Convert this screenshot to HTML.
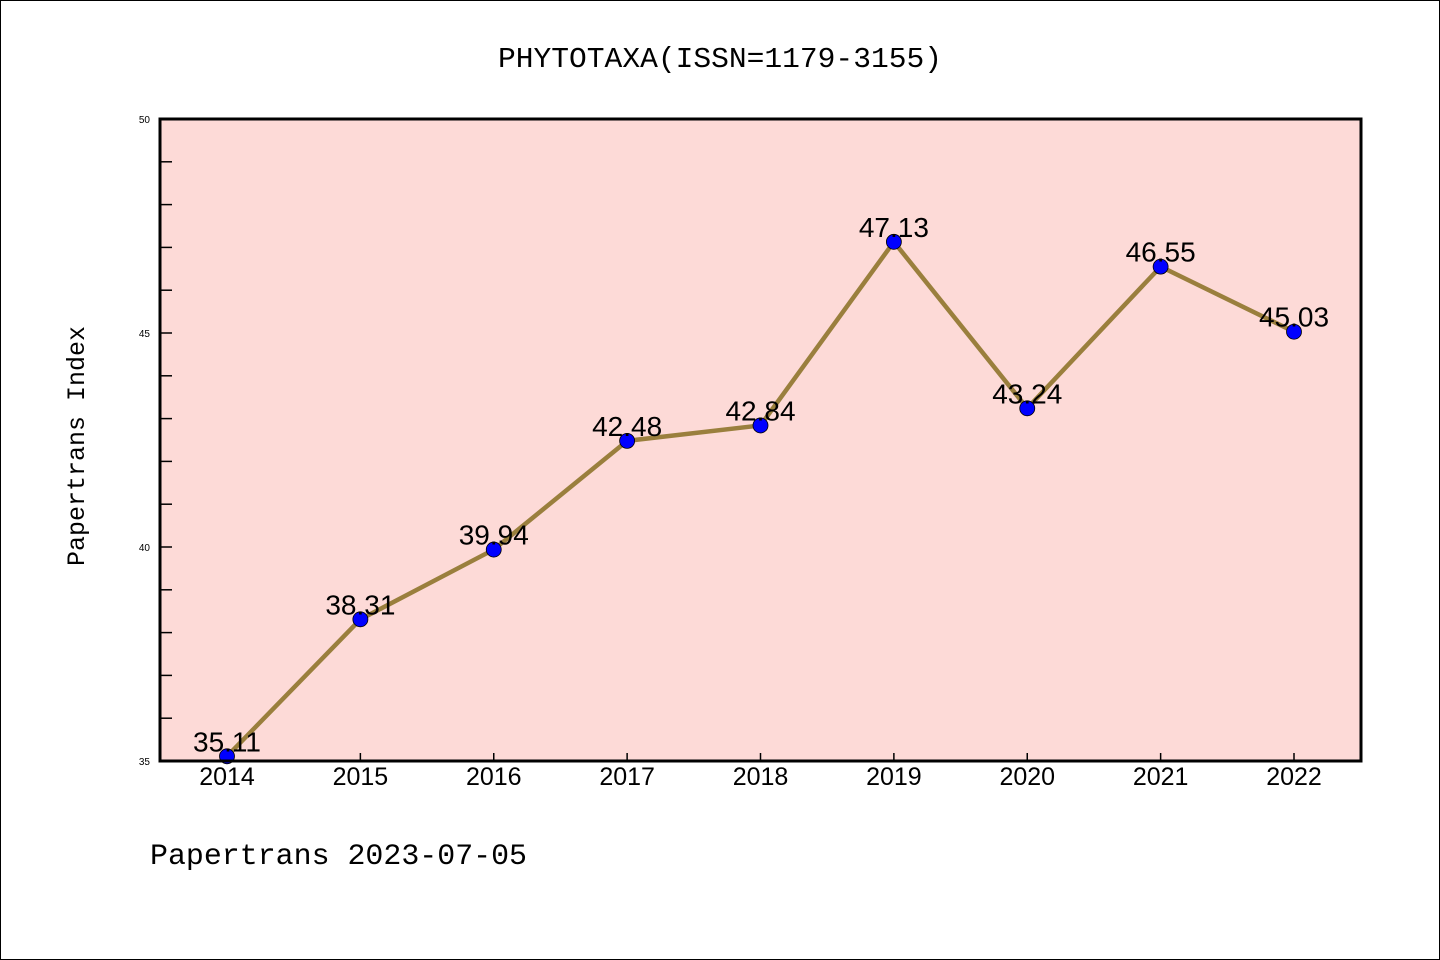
<!DOCTYPE html>
<html><head><meta charset="utf-8"><style>
body{margin:0;background:#fff}
svg{display:block}
</style></head><body>
<svg width="1440" height="960" xmlns="http://www.w3.org/2000/svg">
<rect x="0.5" y="0.5" width="1439" height="959" fill="#fff" stroke="#000" stroke-width="1"/>
<text x="720" y="67" text-anchor="middle" font-family="Liberation Mono, monospace" font-size="29" textLength="444" lengthAdjust="spacingAndGlyphs">PHYTOTAXA(ISSN=1179-3155)</text>
<rect x="160" y="119" width="1201" height="642" fill="#fddad7"/>
<g id="axes"></g>
<g id="marks"></g>
<rect x="160" y="119" width="1201" height="642" fill="none" stroke="#000" stroke-width="3"/>
<text transform="translate(84,446) rotate(-90)" text-anchor="middle" font-family="Liberation Mono, monospace" font-size="25">Papertrans Index</text>
<text x="150" y="864" font-family="Liberation Mono, monospace" font-size="30" textLength="377" lengthAdjust="spacingAndGlyphs">Papertrans 2023-07-05</text>
</svg>
<script>
const years = ["2014","2015","2016","2017","2018","2019","2020","2021","2022"];
const values = [35.11,38.31,39.94,42.48,42.84,47.13,43.24,46.55,45.03];
const yTicks = [35,40,45,50];
const yMin = 35, yMax = 50;
const NS = "http://www.w3.org/2000/svg";
function xs(i){return 227 + i*(1294-227)/(years.length-1);}
function ys(v){return 761 - (v-yMin)/(yMax-yMin)*642;}
function mk(tag, attrs, parent){const e=document.createElementNS(NS,tag);for(const k in attrs)e.setAttribute(k,attrs[k]);parent.appendChild(e);return e;}
const axes=document.getElementById('axes'), marks=document.getElementById('marks');
for(let v=yMin; v<=yMax; v+=1){
  const t=mk('line',{x1:160,x2:172,y1:ys(v),y2:ys(v),stroke:'#000','stroke-width':1.5},axes);
  
  
}
yTicks.forEach(v=>{
  const t=mk('text',{x:150,y:ys(v)+4,'text-anchor':'end','font-family':'Liberation Sans, sans-serif','font-size':10},axes);
  t.textContent=v;
  
  
});
years.forEach((y,i)=>{
  const t=mk('line',{x1:xs(i),x2:xs(i),y1:761,y2:753,stroke:'#000','stroke-width':1.5},axes);
  
  
  const l=mk('text',{x:xs(i),y:785,'text-anchor':'middle','font-family':'Liberation Sans, sans-serif','font-size':25},axes);
  l.textContent=y;
  
  
});
const pts=values.map((v,i)=>xs(i)+','+ys(v)).join(' ');
const line=mk('polyline',{points:pts,fill:'none',stroke:'#9a7f3d','stroke-width':4.5,'stroke-linejoin':'round'},marks);


values.forEach((v,i)=>{
  const c=mk('circle',{cx:xs(i),cy:ys(v),r:7.5,fill:'#0000ff',stroke:'#000','stroke-width':0.8},marks);
  
  
  const t=mk('text',{x:xs(i),y:ys(v)-5,'text-anchor':'middle','font-family':'Liberation Sans, sans-serif','font-size':28},marks);
  t.textContent=v.toFixed(2);
  
  
});
</script>
</body></html>
